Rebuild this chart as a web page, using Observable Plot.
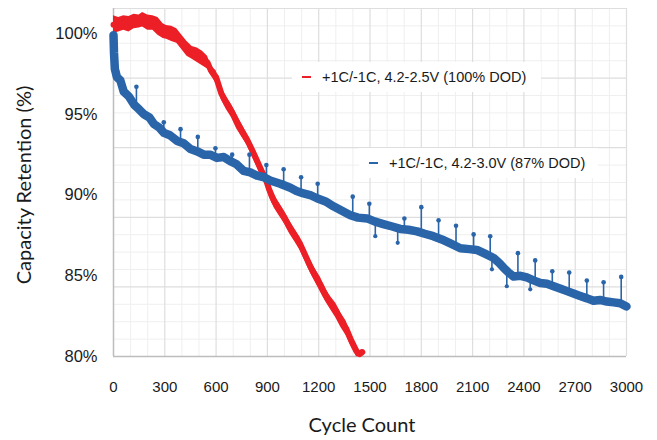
<!DOCTYPE html>
<html><head><meta charset="utf-8">
<script src="https://cdn.jsdelivr.net/npm/d3@7"></script>
<script src="https://cdn.jsdelivr.net/npm/@observablehq/plot@0.6"></script>
<style>body{margin:0;background:#fff}#chart{width:657px;height:440px}</style>
</head><body><div id="chart"></div>
<script>
// ---- data ----
const xTicks = [0,300,600,900,1200,1500,1800,2100,2400,2700,3000];
const yTicks = [80,85,90,95,100];
const seriesNames = ["+1C/-1C, 4.2-2.5V (100% DOD)", "+1C/-1C, 4.2-3.0V (87% DOD)"];

// 100% DOD (red) band: lower and upper edge
const redCycle = [0,30,60,90,120,150,170,200,230,260,290,310,340,370,400,430,460,490,520,550,570,600,630,660,690,720,750,780,810,840,870,890,910,940,970,1000,1030,1060,1090,1120,1150,1180,1210,1240,1270,1300,1330,1360,1390,1420,1440,1455];
const redHigh  = [101.1,101.0,101.1,101.05,101.2,101.15,101.3,101.15,101.1,101.0,100.6,100.5,100.45,100.3,99.9,99.5,99.2,99.1,98.9,98.6,98.0,97.7,96.7,96.1,95.6,95.0,94.4,93.8,93.2,92.5,91.8,91.4,90.8,90.0,89.5,89.0,88.4,87.9,87.4,86.7,86.0,85.4,84.9,84.2,83.7,83.3,82.7,82.2,81.4,80.7,80.35,80.45];
const redLow   = [100.0,100.1,100.2,100.1,100.3,100.35,100.4,100.2,100.2,99.9,99.7,99.65,99.5,99.4,99.0,98.6,98.4,98.2,98.0,97.8,97.4,96.9,95.9,95.3,94.8,94.1,93.6,93.1,92.4,91.7,91.0,90.6,89.9,89.2,88.7,88.2,87.6,87.1,86.6,85.9,85.2,84.6,84.0,83.4,82.9,82.4,81.8,81.3,80.6,80.0,79.95,80.1];

// 87% DOD (blue) band centre
const blueCycle = [0,3,8,20,40,60,90,120,150,178,210,236,265,295,330,372,410,450,490,528,565,605,645,683,720,761,800,839,880,916,975,1034,1070,1111,1150,1190,1240,1286,1330,1385,1430,1483,1530,1578,1630,1677,1725,1775,1820,1870,1920,1970,2028,2080,2125,2175,2223,2255,2281,2310,2340,2380,2417,2460,2496,2535,2574,2615,2652,2690,2729,2770,2807,2845,2885,2925,2963,3000];
const blueValue = [99.9,98.8,97.8,97.3,97.1,96.4,96.1,95.6,95.3,95.0,94.8,94.4,94.2,93.85,93.7,93.35,93.2,92.85,92.7,92.5,92.5,92.3,92.35,92.1,91.9,91.5,91.4,91.2,91.1,90.9,90.7,90.45,90.25,90.1,90.0,89.8,89.6,89.3,89.05,88.75,88.6,88.55,88.35,88.2,88.05,87.9,87.85,87.75,87.6,87.45,87.25,87.0,86.7,86.65,86.6,86.35,86.1,85.8,85.5,85.2,84.95,85.0,84.9,84.7,84.55,84.5,84.35,84.2,84.05,83.9,83.75,83.6,83.45,83.5,83.4,83.35,83.3,83.1];

// upward spikes (check-up cycles) and downward dips on the blue series
const spikeCycle = [134,294,392,493,596,694,795,894,995,1097,1194,1399,1496,1701,1800,1901,2003,2106,2203,2365,2466,2566,2665,2768,2866,2969];
const spikeTop   = [96.7,94.5,94.08,93.6,92.9,92.5,92.5,91.86,91.6,91.1,90.7,89.9,89.46,88.55,89.25,88.43,88.1,87.56,87.45,86.4,85.95,85.28,85.2,84.7,84.6,84.93];
const dipCycle   = [1531,1662,2213,2300,2437];
const dipBottom  = [87.45,87.04,85.4,84.35,84.16];

// ---- helpers ----
const red = "#ec1f27", blue = "#2a64a9";
const yTop = 101.55;
const red_ = redCycle.map((c,i)=>({c, lo: redLow[i], hi: redHigh[i], mid:(redLow[i]+redHigh[i])/2}));
const blue_ = blueCycle.map((c,i)=>({c, v: blueValue[i]}));
function blueAt(c){
  const i = Math.max(1, d3.bisectLeft(blueCycle, c));
  const c0 = blueCycle[i-1], c1 = blueCycle[i];
  const t = (c - c0)/(c1 - c0);
  return blueValue[i-1] + t*(blueValue[i]-blueValue[i-1]);
}
const spikes = spikeCycle.map((c,i)=>({c, base: blueAt(c), tip: spikeTop[i]}));
const dips = dipCycle.map((c,i)=>({c, base: blueAt(c), tip: dipBottom[i]}));
const minorX = d3.range(0, 3001, 100).filter(d => d % 300 !== 0);
const gridY = d3.range(0, 21).map(k => 80 + k*(yTop-80)/20);

const plot = Plot.plot({
  width: 657, height: 440,
  marginLeft: 113, marginRight: 31, marginTop: 8, marginBottom: 84,
  style: {fontFamily: "'Liberation Sans', Arial, sans-serif", color: "#1a1a1a", background: "#fff"},
  x: {domain: [0, 3000]},
  y: {domain: [80, yTop]},
  marks: [
    Plot.ruleX(minorX, {stroke: "#efefef", strokeWidth: 1}),
    Plot.ruleY(gridY.filter((d,k)=>k%4!==0), {stroke: "#efefef", strokeWidth: 1}),
    Plot.ruleY(gridY.filter((d,k)=>k%4===0 && k>0), {stroke: "#dedede", strokeWidth: 1.2}),
    Plot.ruleX(xTicks.filter(d=>d>0), {stroke: "#dedede", strokeWidth: 1.2}),
    Plot.ruleX([0], {stroke: "#bdbdbd", strokeWidth: 1.5}),
    Plot.ruleY([80], {stroke: "#bdbdbd", strokeWidth: 1.5}),
    // red series
    Plot.areaY(red_, {x: "c", y1: "lo", y2: "hi", fill: red}),
    Plot.line(red_, {x: "c", y: "mid", stroke: red, strokeWidth: 6, strokeLinejoin: "round"}),
    // blue series
    Plot.line(blue_, {x: "c", y: "v", stroke: blue, strokeWidth: 8.5, strokeLinejoin: "round"}),
    Plot.ruleX(spikes, {x: "c", y1: "base", y2: "tip", stroke: blue, strokeWidth: 1.6}),
    Plot.dot(spikes, {x: "c", y: "tip", r: 2.3, fill: blue}),
    Plot.ruleX(dips, {x: "c", y1: "base", y2: "tip", stroke: blue, strokeWidth: 1.6}),
    Plot.dot(dips, {x: "c", y: "tip", r: 2.1, fill: blue}),
    Plot.axisX(xTicks, {tickSize: 0, tickPadding: 25, fontSize: 15, tickFormat: d => String(d), label: null}),
    Plot.axisY(yTicks, {tickSize: 0, tickPadding: 16, fontSize: 16.5, tickFormat: d => d + "%", label: null})
  ]
});
document.getElementById("chart").appendChild(plot);

// ---- titles and legend ----
const svg = d3.select(plot);
svg.append("text").attr("x", 362).attr("y", 432).attr("text-anchor", "middle")
  .attr("font-family", "Lato, 'Noto Sans', sans-serif").attr("font-size", 20).attr("fill", "#1a1a1a")
  .text("Cycle Count");
svg.append("text").attr("transform", "translate(24,185) rotate(-90)").attr("text-anchor", "middle")
  .attr("dy", "0.35em").attr("font-family", "Lato, 'Noto Sans', sans-serif").attr("font-size", 20).attr("fill", "#1a1a1a")
  .text("Capacity Retention (%)");

const legends = [
  {name: seriesNames[0], color: red, box: [292, 62, 249, 30]},
  {name: seriesNames[1], color: blue, box: [359, 148, 239, 30]}
];
for (const L of legends) {
  const [bx, by, bw, bh] = L.box;
  const g = svg.append("g");
  g.append("rect").attr("x", bx).attr("y", by).attr("width", bw).attr("height", bh).attr("fill", "#fff");
  const cy = by + bh/2;
  g.append("line").attr("x1", bx+10).attr("x2", bx+19).attr("y1", cy).attr("y2", cy)
    .attr("stroke", L.color).attr("stroke-width", 2);
  g.append("text").attr("x", bx+30).attr("y", cy).attr("dy", "0.35em").attr("text-anchor", "start")
    .attr("font-family", "'Liberation Sans', Arial, sans-serif").attr("font-size", 14.5).attr("fill", "#1a1a1a")
    .text(L.name);
}
</script></body></html>
